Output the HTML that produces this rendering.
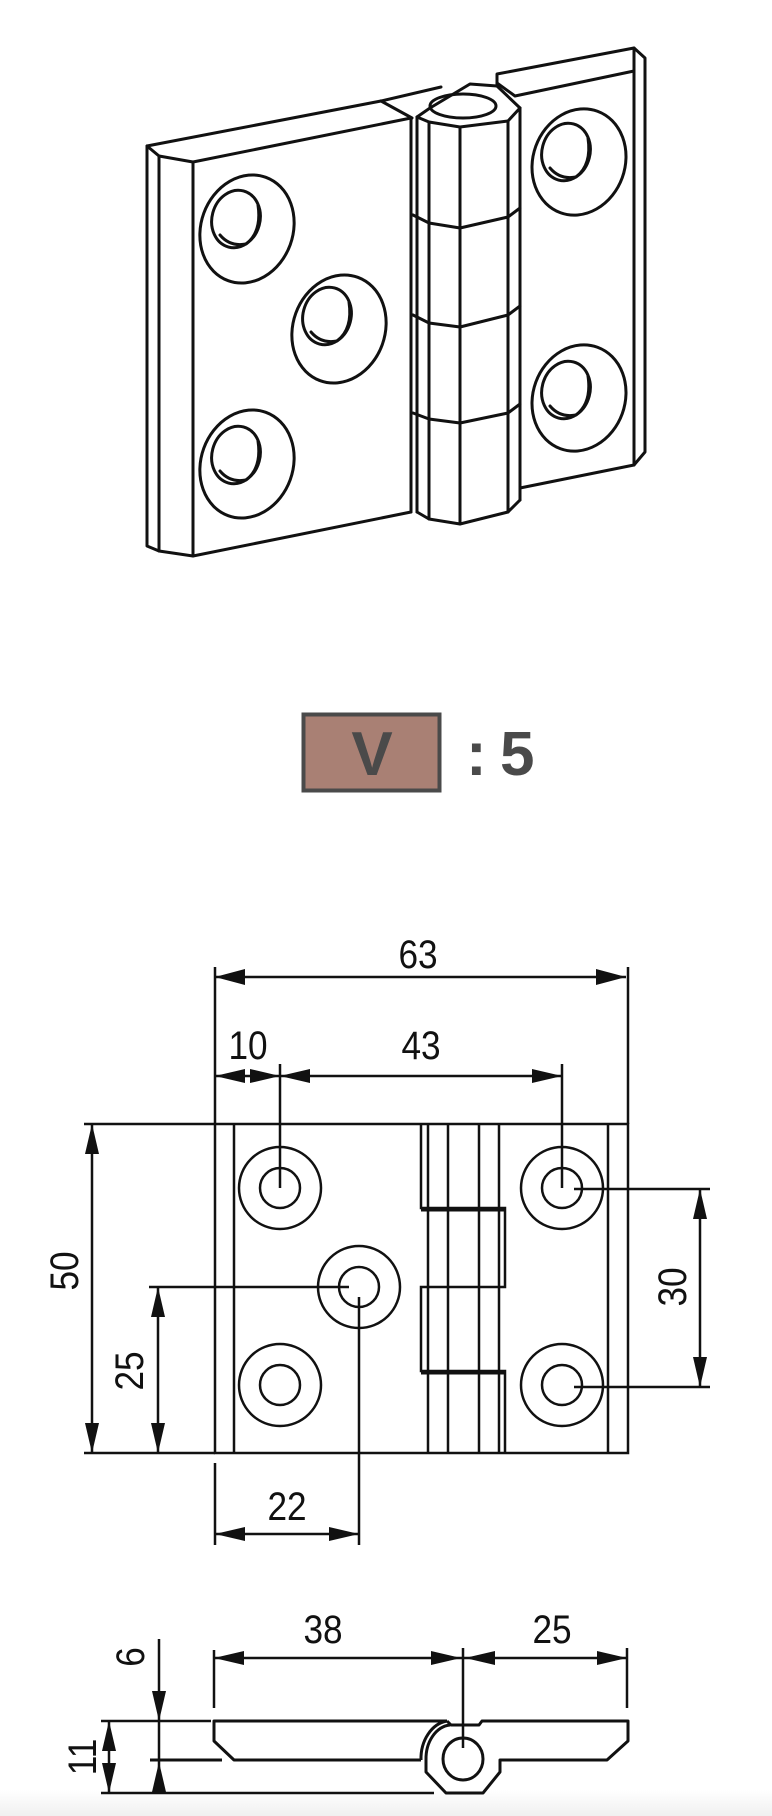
<!DOCTYPE html>
<html><head><meta charset="utf-8"><style>
html,body{margin:0;padding:0;background:#fff;}
svg{display:block;}
text{font-family:"Liberation Sans",Arial,sans-serif;fill:#111;}
</style></head><body>
<svg width="772" height="1816" viewBox="0 0 772 1816" xmlns="http://www.w3.org/2000/svg">
<defs>
<linearGradient id="bg" x1="0" y1="0" x2="0" y2="1"><stop offset="0" stop-color="#fff"/><stop offset="1" stop-color="#f0f0f0"/></linearGradient>
</defs>
<rect x="0" y="1790" width="772" height="26" fill="url(#bg)"/>
<!-- ISOMETRIC -->
<g fill="none" stroke="#111" stroke-width="3" stroke-linejoin="round" stroke-linecap="round">
<polyline points="381,101 147,146 147,546 159,551 193,556 411,512"/>
<polyline points="147,146 159,156 193,162 411,118"/>
<line x1="159" y1="156" x2="159" y2="551"/>
<line x1="193" y1="162" x2="193" y2="556"/>
<polyline points="381,101 441,87"/>
<line x1="381" y1="101" x2="412" y2="118"/>
<line x1="411" y1="118" x2="411" y2="512"/>
<polyline points="417,117 429,122 460,127 508,121 520,108"/>
<polyline points="417,117 430,108 460,90 470,84 497,86 520,108"/>
<ellipse cx="463" cy="106" rx="33" ry="12"/>
<line x1="417" y1="117" x2="417" y2="512"/>
<line x1="429" y1="122" x2="429" y2="519"/>
<line x1="460" y1="127" x2="460" y2="524"/>
<line x1="508" y1="121" x2="508" y2="512"/>
<line x1="520" y1="108" x2="520" y2="500"/>
<polyline points="417,512 429,519 460,524 508,512 520,500"/>
<polyline points="413,215 429,223 460,228 508,217 520,208"/>
<polyline points="413,315 429,323 460,327 508,315 520,306"/>
<polyline points="413,413 429,419 460,423 508,413 520,404"/>
<polyline points="497,86 497,74 634,48 645,58 645,452 634,465 520,488"/>
<polyline points="497,83 515,96 634,71"/>
<line x1="634" y1="48" x2="634" y2="465"/>
<g transform="translate(247,229) rotate(20)"><ellipse rx="46" ry="55"/></g>
<g transform="translate(236,219) rotate(15)"><ellipse rx="24" ry="29"/></g>
<path d="M220,235 Q230,247 246,244 Q262,232 258,205"/>
<g transform="translate(339,329) rotate(20)"><ellipse rx="46" ry="55"/></g>
<g transform="translate(327,316) rotate(15)"><ellipse rx="24" ry="29"/></g>
<path d="M311,332 Q321,344 337,341 Q353,329 349,302"/>
<g transform="translate(247,464) rotate(20)"><ellipse rx="46" ry="55"/></g>
<g transform="translate(236,455) rotate(15)"><ellipse rx="24" ry="29"/></g>
<path d="M220,471 Q230,483 246,480 Q262,468 258,441"/>
<g transform="translate(579,162) rotate(20)"><ellipse rx="46" ry="54"/></g>
<g transform="translate(566,152) rotate(15)"><ellipse rx="24" ry="29"/></g>
<path d="M550,168 Q560,180 576,177 Q592,165 588,138"/>
<g transform="translate(579,398) rotate(20)"><ellipse rx="46" ry="54"/></g>
<g transform="translate(566,390) rotate(15)"><ellipse rx="24" ry="29"/></g>
<path d="M550,406 Q560,418 576,415 Q592,403 588,376"/>
</g>
<!-- BADGE -->
<rect x="303.5" y="714.5" width="136" height="76" fill="#a98074" stroke="#4a4a4a" stroke-width="4"/>
<text x="372" y="775" text-anchor="middle" font-size="62" font-weight="bold" style="fill:#4a4a4a">V</text>
<text x="466" y="775" font-size="62" font-weight="bold" style="fill:#4a4a4a">:</text>
<text x="500" y="775" font-size="62" font-weight="bold" style="fill:#4a4a4a">5</text>
<!-- FRONT VIEW -->
<g fill="none" stroke="#111" stroke-width="2.5">
<rect x="215" y="1124" width="413" height="329"/>
<line x1="84" y1="1124" x2="215" y2="1124"/>
<line x1="84" y1="1453" x2="215" y2="1453"/>
<line x1="234" y1="1124" x2="234" y2="1453"/>
<line x1="608" y1="1124" x2="608" y2="1453"/>
<polyline points="421,1124 421,1208 505,1208 505,1287 421,1287 421,1371 505,1371 505,1453"/>
<line x1="428" y1="1124" x2="428" y2="1453"/>
<line x1="448" y1="1124" x2="448" y2="1453"/>
<line x1="479" y1="1124" x2="479" y2="1453"/>
<line x1="499" y1="1124" x2="499" y2="1453"/>
<line x1="421" y1="1210" x2="505" y2="1210" stroke-width="3"/>
<line x1="421" y1="1373" x2="505" y2="1373" stroke-width="3"/>
<circle cx="280" cy="1188" r="41"/><circle cx="280" cy="1188" r="20"/>
<circle cx="280" cy="1385" r="41"/><circle cx="280" cy="1385" r="20"/>
<circle cx="359" cy="1287" r="41"/><circle cx="359" cy="1287" r="20"/>
<circle cx="562" cy="1188" r="41"/><circle cx="562" cy="1188" r="20"/>
<circle cx="562" cy="1385" r="41"/><circle cx="562" cy="1385" r="20"/>
<line x1="215" y1="967" x2="215" y2="1124"/>
<line x1="628" y1="967" x2="628" y2="1124"/>
<line x1="215" y1="977" x2="626" y2="977"/>
<line x1="215" y1="1076" x2="562" y2="1076"/>
<line x1="280" y1="1064" x2="280" y2="1188"/>
<line x1="562" y1="1064" x2="562" y2="1188"/>
<line x1="574" y1="1189" x2="710" y2="1189"/>
<line x1="574" y1="1387" x2="710" y2="1387"/>
<line x1="700" y1="1189" x2="700" y2="1387"/>
<line x1="92" y1="1124" x2="92" y2="1453"/>
<line x1="149" y1="1287" x2="349" y2="1287"/>
<line x1="158" y1="1287" x2="158" y2="1453"/>
<line x1="359" y1="1297" x2="359" y2="1545"/>
<line x1="215" y1="1463" x2="215" y2="1545"/>
<line x1="215" y1="1534" x2="359" y2="1534"/>
</g>
<g fill="#111" stroke="none">
<polygon points="215,977 245,969 245,985"/><polygon points="626,977 596,969 596,985"/>
<polygon points="215,1076 245,1069 245,1083"/><polygon points="280,1076 250,1069 250,1083"/>
<polygon points="280,1076 310,1069 310,1083"/><polygon points="562,1076 532,1069 532,1083"/>
<polygon points="700,1189 693,1219 707,1219"/><polygon points="700,1387 693,1357 707,1357"/>
<polygon points="92,1124 85,1154 99,1154"/><polygon points="92,1453 85,1423 99,1423"/>
<polygon points="158,1287 151,1317 165,1317"/><polygon points="158,1453 151,1423 165,1423"/>
<polygon points="215,1534 245,1527 245,1541"/><polygon points="359,1534 329,1527 329,1541"/>
</g>
<g font-size="40">
<text transform="translate(418,968) scale(0.88,1)" text-anchor="middle">63</text>
<text transform="translate(248,1059) scale(0.88,1)" text-anchor="middle">10</text>
<text transform="translate(421,1059) scale(0.88,1)" text-anchor="middle">43</text>
<text transform="translate(287,1520) scale(0.88,1)" text-anchor="middle">22</text>
<text transform="translate(78,1271) rotate(-90) scale(0.88,1)" text-anchor="middle">50</text>
<text transform="translate(143,1371) rotate(-90) scale(0.88,1)" text-anchor="middle">25</text>
<text transform="translate(686,1287) rotate(-90) scale(0.88,1)" text-anchor="middle">30</text>
<text transform="translate(323,1643) scale(0.88,1)" text-anchor="middle">38</text>
<text transform="translate(552,1643) scale(0.88,1)" text-anchor="middle">25</text>
<text transform="translate(144,1657) rotate(-90) scale(0.88,1)" text-anchor="middle">6</text>
<text transform="translate(96,1757) rotate(-90) scale(0.88,1)" text-anchor="middle">11</text>
</g>
<!-- SIDE VIEW -->
<g fill="none" stroke="#111" stroke-width="2.5">
<line x1="214" y1="1658" x2="627" y2="1658"/>
<line x1="214" y1="1650" x2="214" y2="1708"/>
<line x1="463" y1="1648" x2="463" y2="1748"/>
<line x1="627" y1="1648" x2="627" y2="1708"/>
<line x1="159" y1="1639" x2="159" y2="1793"/>
<line x1="101" y1="1721" x2="211" y2="1721"/>
<line x1="150" y1="1760" x2="222" y2="1760" stroke-width="3"/>
<line x1="101" y1="1793" x2="434" y2="1793"/>
<line x1="109" y1="1721" x2="109" y2="1793"/>
</g>
<g fill="none" stroke="#111" stroke-width="3" stroke-linejoin="round">
<polyline points="447,1721 214,1721 214,1741 234,1760 421,1760"/>
<polyline points="447,1721 451,1725 479,1725 482,1721 628,1721 628,1741 607,1760 500,1760 500,1772 483,1793 446,1793 426,1772 426,1760"/>
<path d="M421,1760 A30,38 0 0 1 447,1721"/>
<path d="M426,1760 A26,34 0 0 1 450,1725"/>
<ellipse cx="463" cy="1759" rx="20" ry="21"/>
</g>
<g fill="#111">
<polygon points="214,1658 244,1651 244,1665"/><polygon points="461,1658 431,1651 431,1665"/>
<polygon points="465,1658 495,1651 495,1665"/><polygon points="627,1658 597,1651 597,1665"/>
<polygon points="159,1721 152,1691 166,1691"/><polygon points="159,1762 152,1792 166,1792"/>
<polygon points="109,1721 102,1751 116,1751"/><polygon points="109,1793 102,1763 116,1763"/>
</g>
</svg>
</body></html>
